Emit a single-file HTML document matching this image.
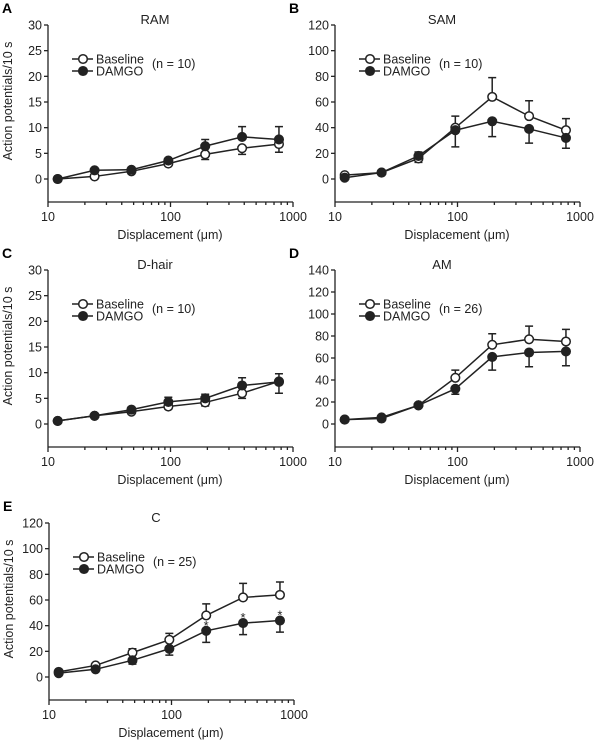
<!DOCTYPE html>
<html><head><meta charset="utf-8"><style>
body{margin:0;background:#fff}
svg{display:block;font-family:"Liberation Sans",Arial,sans-serif}
</style></head><body>
<svg id="fig" width="600" height="741" viewBox="0 0 600 741" xmlns="http://www.w3.org/2000/svg"></svg>
<script>
const xValues = [12, 24, 48, 96, 192, 384, 768];
const ramBaseline = [0, 0.5, 1.5, 3, 4.8, 6, 6.8];
const ramBaselineErr = [0, 0.4, 0.3, 0.4, 1.0, 1.2, 1.6];
const ramDamgo = [0, 1.7, 1.8, 3.6, 6.4, 8.2, 7.7];
const ramDamgoErr = [0, 0.3, 0.3, 0.3, 1.3, 2.0, 2.5];
const samBaseline = [3, 5, 16, 40, 64, 49, 38];
const samBaselineErr = [0.5, 0.5, 3, 9, 15, 12, 9];
const samDamgo = [1, 5, 18, 38, 45, 39, 32];
const samDamgoErr = [0.5, 0.5, 3, 13, 12, 11, 8];
const dhairBaseline = [0.6, 1.6, 2.4, 3.4, 4.2, 6, 8.3];
const dhairBaselineErr = [0.2, 0.2, 0.4, 0.5, 0.7, 1.0, 1.5];
const dhairDamgo = [0.6, 1.6, 2.8, 4.3, 5, 7.5, 8.2];
const dhairDamgoErr = [0.2, 0.2, 0.4, 0.9, 0.8, 1.5, 2.2];
const amBaseline = [4, 6, 17, 42, 72, 77, 75];
const amBaselineErr = [0.5, 1, 2, 7, 10, 12, 11];
const amDamgo = [4, 5, 17, 32, 61, 65, 66];
const amDamgoErr = [0.5, 1, 2, 5, 12, 13, 13];
const cBaseline = [4, 9, 19, 29, 48, 62, 64];
const cBaselineErr = [1, 1, 3, 5, 9, 11, 10];
const cDamgo = [3, 6, 13, 22, 36, 42, 44];
const cDamgoErr = [1, 1, 3, 5, 9, 9, 9];
const cAsterisks = [0, 0, 0, 0, 1, 1, 1];
const xTickLabels = ["10", "100", "1000"];
const yTicksSmall = [0, 5, 10, 15, 20, 25, 30];
const yTicks120 = [0, 20, 40, 60, 80, 100, 120];
const yTicks140 = [0, 20, 40, 60, 80, 100, 120, 140];

const NS = "http://www.w3.org/2000/svg";
const svg = document.getElementById('fig');
function mk(tag, attrs, parent, text){
  const e = document.createElementNS(NS, tag);
  for (const k in attrs) e.setAttribute(k, attrs[k]);
  if (text !== undefined) e.textContent = text;
  (parent || svg).appendChild(e);
  return e;
}

function panel(p){
  const g = mk('g', {});
  
  
  const ox = p.ox, oy = p.oy;
  const x0 = ox, x1 = ox + 245, dec = 122.5;
  const yTop = oy, yZero = oy + 154, yBot = oy + 177;
  const ymax = p.ticks[p.ticks.length - 1];
  const xs = v => x0 + (Math.log10(v) - 1) * dec;
  const ys = v => yZero - v / ymax * (yZero - yTop);
  const L = mk('text', {x: ox - 46, y: oy - 12, 'font-size': 14, 'font-weight': 'bold'}, g, p.letter);
  
  
  const T = mk('text', {x: ox + 107, y: oy - 1, 'font-size': 13, 'text-anchor': 'middle', fill: '#222'}, g, p.title);
  
  
  const ax = mk('g', {stroke: '#222', 'stroke-width': 1.3, fill: 'none'}, g);
  
  
  mk('line', {x1: x0, y1: yTop, x2: x0, y2: yBot}, ax);
  mk('line', {x1: x0, y1: yBot, x2: x1, y2: yBot}, ax);
  p.ticks.forEach(t => {
    const y = ys(t);
    mk('line', {x1: x0 - 4, y1: y, x2: x0, y2: y}, ax);
    const tl = mk('text', {x: x0 - 6, y: y + 4.5, 'font-size': 12.5, 'text-anchor': 'end', fill: '#222', stroke: 'none'}, g, String(t));
    
    
  });
  for (let d = 0; d < 3; d++){
    for (let m = 1; m < 10; m++){
      const v = Math.pow(10, d + 1) * m;
      if (d === 2 && m > 1) break;
      const x = xs(v);
      mk('line', {x1: x, y1: yBot, x2: x, y2: yBot + (m === 1 ? 5 : 3)}, ax);
    }
  }
  xTickLabels.forEach((s, i) => {
    const tl = mk('text', {x: x0 + i * dec, y: yBot + 19, 'font-size': 12.5, 'text-anchor': 'middle', fill: '#222'}, g, s);
    
    
  });
  const xl = mk('text', {x: x0 + 122, y: yBot + 37, 'font-size': 12.5, 'text-anchor': 'middle', fill: '#222'}, g, 'Displacement (\u03bcm)');
  
  
  if (p.ylabel){
    const yl = mk('text', {x: 0, y: 0, 'font-size': 12.5, 'text-anchor': 'middle', fill: '#222', transform: `translate(${ox - 36},${oy + 76}) rotate(-90)`}, g, 'Action potentials/10 s');
    
    
  }
  const series = [
    {name: 'baseline', v: p.b, e: p.be, other: p.d, fill: '#fff'},
    {name: 'damgo', v: p.d, e: p.de, other: p.b, fill: '#222'}
  ];
  series.forEach(s => {
    const sg = mk('g', {}, g);
    
    
    s.v.forEach((v, i) => {
      const up = v >= s.other[i];
      const ye = up ? v + s.e[i] : v - s.e[i];
      const x = xs(xValues[i]);
      const eb = mk('path', {d: `M${x},${ys(v)}V${ys(ye)}M${x-4},${ys(ye)}H${x+4}`, stroke: '#222', 'stroke-width': 1.5, fill: 'none'}, sg);
      
      
    });
    const pts = s.v.map((v, i) => xs(xValues[i]) + ',' + ys(v)).join(' ');
    const ln = mk('polyline', {points: pts, stroke: '#222', 'stroke-width': 1.5, fill: 'none'}, sg);
    
    
    s.v.forEach((v, i) => {
      const c = mk('circle', {cx: xs(xValues[i]), cy: ys(v), r: 4.3, fill: s.fill, stroke: '#222', 'stroke-width': 1.5}, sg);
      
      
    });
  });
  if (p.ast){
    p.ast.forEach((a, i) => {
      if (!a) return;
      const v = p.d[i];
      const t = mk('text', {x: xs(xValues[i]), y: ys(v) - 1, 'font-size': 13, 'text-anchor': 'middle', fill: '#222'}, g, '*');
      
      
    });
  }
  const lg = mk('g', {}, g);
  
  
  const lx = ox + 24, ly = oy + 34;
  [['Baseline', '#fff', 0], ['DAMGO', '#222', 12]].forEach(([n, f, dy]) => {
    mk('line', {x1: lx, y1: ly + dy, x2: lx + 21, y2: ly + dy, stroke: '#222', 'stroke-width': 1.5}, lg);
    mk('circle', {cx: lx + 11, cy: ly + dy, r: 4.3, fill: f, stroke: '#222', 'stroke-width': 1.5}, lg);
    mk('text', {x: lx + 24, y: ly + dy + 4.5, 'font-size': 12.5, fill: '#222'}, lg, n);
  });
  mk('text', {x: lx + 80, y: ly + 9, 'font-size': 12.5, fill: '#222'}, lg, p.n);
}

panel({id: 'ram', letter: 'A', title: 'RAM', ox: 48, oy: 25, ticks: yTicksSmall, b: ramBaseline, be: ramBaselineErr, d: ramDamgo, de: ramDamgoErr, n: '(n = 10)', ylabel: true});
panel({id: 'sam', letter: 'B', title: 'SAM', ox: 335, oy: 25, ticks: yTicks120, b: samBaseline, be: samBaselineErr, d: samDamgo, de: samDamgoErr, n: '(n = 10)', ylabel: false});
panel({id: 'dhair', letter: 'C', title: 'D-hair', ox: 48, oy: 270, ticks: yTicksSmall, b: dhairBaseline, be: dhairBaselineErr, d: dhairDamgo, de: dhairDamgoErr, n: '(n = 10)', ylabel: true});
panel({id: 'am', letter: 'D', title: 'AM', ox: 335, oy: 270, ticks: yTicks140, b: amBaseline, be: amBaselineErr, d: amDamgo, de: amDamgoErr, n: '(n = 26)', ylabel: false});
panel({id: 'c', letter: 'E', title: 'C', ox: 49, oy: 523, ticks: yTicks120, b: cBaseline, be: cBaselineErr, d: cDamgo, de: cDamgoErr, n: '(n = 25)', ylabel: true, ast: cAsterisks});
</script>
</body></html>
